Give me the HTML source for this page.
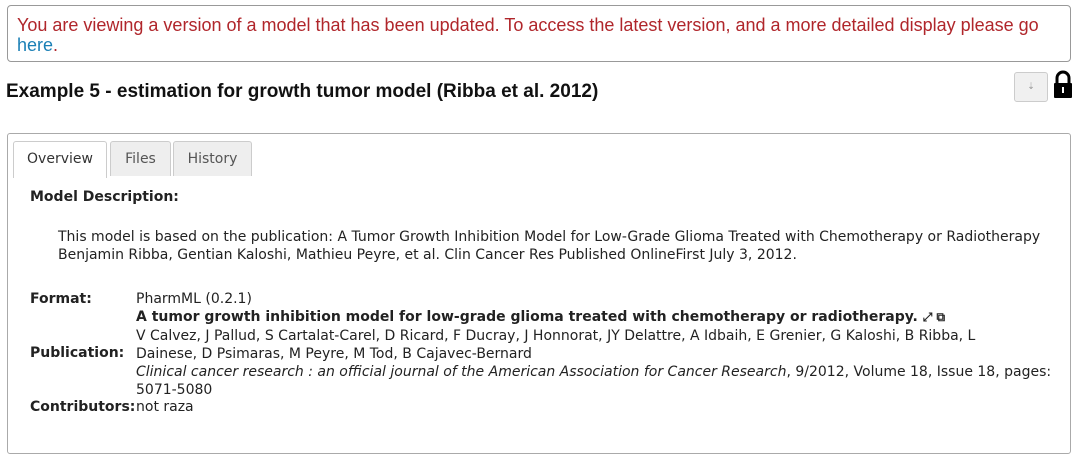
<!DOCTYPE html>
<html><head><meta charset="utf-8"><style>
body{margin:0;width:1088px;height:465px;background:#fff;font-family:"DejaVu Sans","Liberation Sans",sans-serif;font-size:14px;color:#222;position:relative;overflow:hidden}
.a{position:absolute}
#alert{left:7px;top:5px;width:1062px;height:55px;border:1px solid #999;border-radius:4px}
#alert p{margin:0;position:absolute;left:9px;top:9px;width:1040px;font-family:"Liberation Sans",sans-serif;font-size:18px;line-height:20px;color:#b0262b}
#alert a{color:#1a7fb5;text-decoration:none}
h1{position:absolute;left:6px;top:81px;margin:0;font-family:"Liberation Sans",sans-serif;font-size:19px;font-weight:bold;color:#111}
#panel{left:7px;top:133px;width:1062px;height:319px;border:1px solid #aaa;border-radius:3px}
.tab{position:absolute;top:141px;height:34px;border:1px solid #ccc;border-bottom:none;background:#eee;color:#555;text-align:center;line-height:34px;font-size:14px;border-radius:3px 3px 0 0}
.lbl{position:absolute;left:30px;font-weight:bold}
.v{position:absolute;left:136px;white-space:nowrap}
</style></head><body>
<div id="alert" class="a"><p>You are viewing a version of a model that has been updated. To access the latest version, and a more detailed display please go <a href="#">here</a>.</p></div>
<h1>Example 5 - estimation for growth tumor model (Ribba et al. 2012)</h1>
<div class="a" style="left:1014px;top:72px;width:32px;height:28px;border:1px solid #ccc;border-radius:3px;background:#f0f0f0;color:#999;font-size:9px;text-align:center;line-height:28px">⇣</div>
<svg class="a" style="left:1052px;top:70px" width="22" height="30"><path d="M5 13V8a6 6 0 0 1 12 0v5" fill="none" stroke="#000" stroke-width="3"/><rect x="2" y="13" width="18" height="15" rx="1" fill="#000"/><rect x="10" y="17" width="2" height="6" fill="#fff"/></svg>
<div id="panel" class="a"></div>
<div class="tab" style="left:13px;width:92px;background:#fff;color:#333;height:36px">Overview</div>
<div class="tab" style="left:110px;width:59px">Files</div>
<div class="tab" style="left:173px;width:77px">History</div>
<div class="lbl" style="top:189px">Model Description:</div>
<div class="a" style="left:58px;top:228px;line-height:18px">This model is based on the publication: A Tumor Growth Inhibition Model for Low-Grade Glioma Treated with Chemotherapy or Radiotherapy<br>Benjamin Ribba, Gentian Kaloshi, Mathieu Peyre, et al. Clin Cancer Res Published OnlineFirst July 3, 2012.</div>
<div class="lbl" style="top:291px">Format:</div>
<div class="v" style="top:291px">PharmML (0.2.1)</div>
<div class="v" style="top:309px;font-weight:bold">A tumor growth inhibition model for low-grade glioma treated with chemotherapy or radiotherapy. <span style="font-size:12px">⤢ ⧉</span></div>
<div class="v" style="top:327px;line-height:18px">V Calvez, J Pallud, S Cartalat-Carel, D Ricard, F Ducray, J Honnorat, JY Delattre, A Idbaih, E Grenier, G Kaloshi, B Ribba, L<br>Dainese, D Psimaras, M Peyre, M Tod, B Cajavec-Bernard</div>
<div class="lbl" style="top:345px">Publication:</div>
<div class="v" style="top:363px;line-height:18px"><i>Clinical cancer research : an official journal of the American Association for Cancer Research</i>, 9/2012, Volume 18, Issue 18, pages:<br>5071-5080</div>
<div class="lbl" style="top:399px">Contributors:</div>
<div class="v" style="top:399px">not raza</div>
</body></html>
